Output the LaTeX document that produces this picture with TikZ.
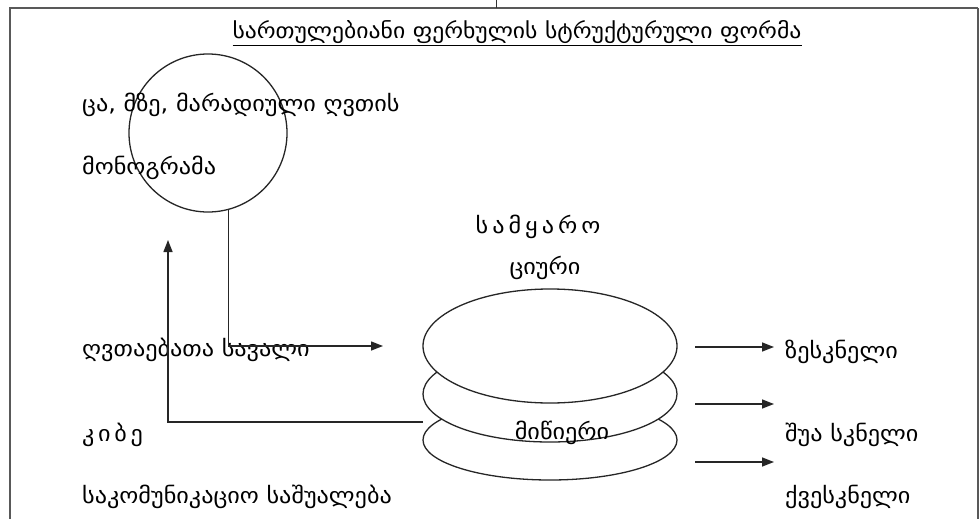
\documentclass[tikz,border=0pt]{standalone}
\usepackage{fontspec}
\setmainfont[FakeStretch=1.1]{DejaVu Sans}
\usetikzlibrary{arrows.meta,shapes.geometric}
\begin{document}
\begin{tikzpicture}[x=1pt,y=-1pt,
  lbl/.style={anchor=west,inner sep=0pt,font=\fontsize{22}{24}\selectfont},
  clbl/.style={inner sep=0pt,font=\fontsize{22}{24}\selectfont},
  ln/.style={line width=1.4pt,draw=black!85},
  arr/.style={ln,-{Triangle[length=12pt,width=9pt]}},
  disc/.style={ellipse,draw=black!85,line width=1.3pt,fill=white,minimum width=254pt,inner sep=0pt},
  frame/.style={line width=1.8pt,draw=black!65}]
\useasboundingbox (0,0) rectangle (980,519);
% frame
\draw[frame] (9,8) -- (978,8);
\draw[frame] (10,8) -- (10,519);
\draw[frame] (978,8) -- (978,519);
\draw[line width=1pt,draw=black!80] (496,0) -- (496,8);
% title
\node[clbl,font=\fontsize{21.5}{24}\selectfont] (title) at (517,33) {\underline{სართულებიანი ფერხულის სტრუქტურული ფორმა}};
% circle
\node[circle,draw=black!85,line width=1.3pt,minimum size=158pt,inner sep=0pt] (circ) at (208,133) {};
\node[lbl] (t1) at (82,105) {ცა, მზე, მარადიული ღვთის};
\node[lbl] (t2) at (82,168) {მონოგრამა};
% world
\node[clbl] (w1) at (538,227) {ს\hspace{4pt}ა\hspace{4pt}მ\hspace{4pt}ყ\hspace{4pt}ა\hspace{4pt}რ\hspace{4pt}ო};
\node[clbl] (w2) at (545,268) {ციური};
\node[disc,minimum height=80pt] (d3) at (550,440) {};
\node[disc,minimum height=96pt] (d2) at (550,394) {};
\node[disc,minimum height=114pt] (d1) at (550,346) {};
\node[clbl] (w3) at (562,433) {მიწიერი};
% left labels
\node[lbl] (l1) at (82,350) {ღვთაებათა სავალი};
\node[lbl] (l2) at (82,435) {კ\,ი\,ბ\,ე};
\node[lbl] (l3) at (82,497) {საკომუნიკაციო საშუალება};
% right labels
\node[lbl] (r1) at (785,352) {ზესკნელი};
\node[lbl] (r2) at (785,435) {შუა სკნელი};
\node[lbl] (r3) at (785,497) {ქვესკნელი};
% connectors
\coordinate (pathTip) at (383,346);
\draw[arr] (circ.-75) |- (pathTip);
\coordinate (kibeStart) at (423,422);
\coordinate (kibeTip) at (168,240);
\draw[arr] (kibeStart) -| (kibeTip);
\coordinate (a1s) at (695,347); \coordinate (a1e) at (774,347);
\coordinate (a2s) at (695,404); \coordinate (a2e) at (774,404);
\coordinate (a3s) at (695,462); \coordinate (a3e) at (774,462);
\draw[arr] (a1s) -- (a1e);
\draw[arr] (a2s) -- (a2e);
\draw[arr] (a3s) -- (a3e);
\end{tikzpicture}
\end{document}
